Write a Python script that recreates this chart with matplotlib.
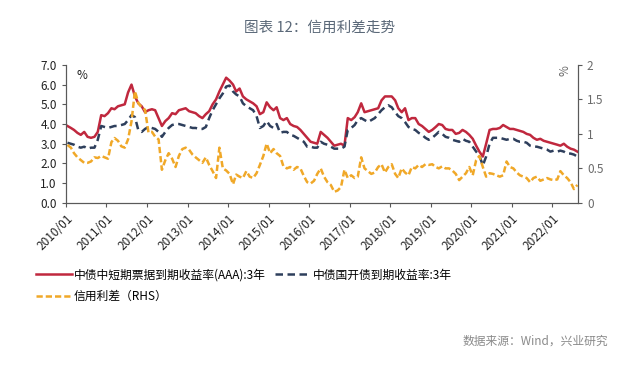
import matplotlib.pyplot as plt
import numpy as np
import pandas as pd

plt.rcParams['font.family'] = ['Noto Sans CJK SC', 'DejaVu Sans']

# Datos mensuales, 2010/01 - 2022/08
fechas = pd.date_range('2010-01-01', periods=152, freq='MS') + pd.Timedelta(days=14)

aaa_3y = [3.9, 3.8, 3.7, 3.55, 3.45, 3.6, 3.35, 3.3, 3.35, 3.6, 4.45, 4.4,
          4.55, 4.8, 4.75, 4.9, 4.95, 5.0, 5.6, 6.0, 5.4, 5.05, 4.9, 4.6,
          4.7, 4.75, 4.7, 4.3, 3.9, 4.15, 4.3, 4.55, 4.5, 4.7, 4.75, 4.8,
          4.65, 4.6, 4.55, 4.4, 4.3, 4.5, 4.65, 5.0, 5.25, 5.65, 6.0, 6.35,
          6.2, 6.0, 5.65, 5.8, 5.4, 5.25, 5.15, 5.05, 4.9, 4.5, 4.6, 5.1,
          4.85, 4.7, 4.85, 4.3, 4.2, 4.3, 4.0, 3.9, 3.85, 3.7, 3.5, 3.3,
          3.1, 3.05, 3.0, 3.6, 3.45, 3.3, 3.1, 2.9, 2.95, 3.0, 2.9, 4.3,
          4.2, 4.35, 4.6, 5.05, 4.6, 4.65, 4.7, 4.75, 4.8, 5.2, 5.4, 5.4,
          5.4, 5.2, 4.8, 4.6, 4.8, 4.2, 4.3, 4.3, 4.0, 3.9, 3.75, 3.6,
          3.7, 3.85, 4.0, 3.95, 3.75, 3.7, 3.7, 3.5, 3.55, 3.7, 3.6, 3.45,
          3.25, 2.9, 2.6, 2.35, 3.0, 3.7, 3.75, 3.75, 3.8, 3.95, 3.85, 3.75,
          3.75, 3.7, 3.65, 3.6, 3.5, 3.45, 3.3, 3.2, 3.25, 3.15, 3.1, 3.05,
          3.0, 2.95, 2.9, 3.0, 2.85, 2.75, 2.7, 2.6]

cdb_3y = [3.05, 3.0, 2.95, 2.85, 2.8, 2.85, 2.75, 2.8, 2.8, 3.2, 3.9, 3.85,
          3.8, 3.85, 3.9, 3.9, 3.95, 4.0, 4.2, 4.45, 4.35, 3.7, 3.6, 3.75,
          3.85, 3.8, 3.75, 3.6, 3.35, 3.6, 3.8, 3.95, 4.0, 4.0, 3.95, 3.9,
          3.85, 3.8, 3.8, 3.75, 3.75, 3.85, 4.3, 4.7, 5.0, 5.3, 5.55, 5.9,
          5.95, 5.65, 5.5, 5.4, 5.05, 4.9, 4.8, 4.7, 4.4, 3.8, 3.9, 4.15,
          3.9, 3.8, 4.0, 3.55, 3.6, 3.6, 3.45, 3.4, 3.3, 3.2, 3.1, 2.85,
          2.85, 2.8, 2.8, 3.1, 3.0, 2.95, 2.85, 2.75, 2.75, 2.75, 2.85, 3.7,
          3.8, 3.95, 4.2, 4.3, 4.2, 4.1, 4.2, 4.3, 4.5, 4.7, 4.85, 4.95,
          4.85, 4.6, 4.4, 4.3, 4.1, 3.85, 3.75, 3.7, 3.55, 3.45, 3.3, 3.2,
          3.3, 3.45, 3.6, 3.5, 3.35, 3.3, 3.2, 3.15, 3.1, 3.25, 3.15, 3.1,
          2.85, 2.6, 2.4, 1.9, 2.35, 3.0, 3.3, 3.3, 3.3, 3.25, 3.2, 3.25,
          3.25, 3.15, 3.1, 3.1, 3.05, 2.9, 2.85, 2.85, 2.8, 2.75, 2.7, 2.6,
          2.65, 2.6, 2.65, 2.6, 2.5, 2.5, 2.45, 2.35]

diferencial = [0.84, 0.8, 0.72, 0.66, 0.62, 0.58, 0.58, 0.6, 0.66, 0.65, 0.68, 0.66,
               0.64, 0.88, 0.94, 0.9, 0.82, 0.8, 0.92, 1.18, 1.62, 1.45, 1.38, 1.35,
               1.02, 1.03, 0.96, 0.92, 0.48, 0.62, 0.72, 0.64, 0.52, 0.68, 0.78, 0.8,
               0.77, 0.7, 0.66, 0.62, 0.58, 0.66, 0.55, 0.46, 0.36, 0.8, 0.5, 0.47,
               0.42, 0.27, 0.41, 0.38, 0.36, 0.46, 0.38, 0.36, 0.43, 0.55, 0.68, 0.86,
               0.72, 0.78, 0.72, 0.68, 0.53, 0.5, 0.52, 0.48, 0.52, 0.5, 0.39, 0.3,
               0.28, 0.32, 0.42, 0.5, 0.38, 0.3, 0.26, 0.16, 0.18, 0.23, 0.48, 0.36,
               0.4, 0.36, 0.38, 0.66, 0.5, 0.46, 0.42, 0.44, 0.52, 0.56, 0.44, 0.52,
               0.56, 0.42, 0.36, 0.5, 0.44, 0.4, 0.52, 0.5, 0.55, 0.52, 0.56, 0.55,
               0.56, 0.52, 0.5, 0.53, 0.5, 0.5, 0.47, 0.42, 0.33, 0.38, 0.43, 0.52,
               0.4, 0.62, 0.68, 0.52, 0.38, 0.43, 0.42, 0.4, 0.38, 0.4, 0.6, 0.52,
               0.5, 0.44, 0.4, 0.38, 0.36, 0.3, 0.36, 0.38, 0.32, 0.34, 0.36, 0.34,
               0.33, 0.34, 0.46, 0.4, 0.36, 0.3, 0.2, 0.26]

etiquetas_x = ['2010/01', '2011/01', '2012/01', '2013/01', '2014/01', '2015/01', '2016/01',
               '2017/01', '2018/01', '2019/01', '2020/01', '2021/01', '2022/01']

rojo = '#c0283e'
azul = '#2e3f5c'
naranja = '#f0a828'
gris = '#595959'

fig = plt.figure(figsize=(6.4, 3.75), dpi=100)
ax = fig.add_axes([0.103, 0.459, 0.800, 0.368])
ax2 = ax.twinx()

l1, = ax.plot(fechas, aaa_3y, color=rojo, lw=1.8, label='中债中短期票据到期收益率(AAA):3年')
l2, = ax.plot(fechas, cdb_3y, color=azul, lw=1.8, ls=(0, (3, 1.8)), label='中债国开债到期收益率:3年')
l3, = ax2.plot(fechas, diferencial, color=naranja, lw=1.8, ls=(0, (2.5, 1.2)), label='信用利差（RHS）')

ax.set_ylim(0, 7)
ax.set_yticks(np.arange(0, 7.1, 1))
ax.set_yticklabels(['%.1f' % v for v in np.arange(0, 7.1, 1)], fontsize=8.5)
ax2.set_ylim(0, 2)
ax2.set_yticks([0, 0.5, 1, 1.5, 2])
ax2.set_yticklabels(['0', '0.5', '1', '1.5', '2'], fontsize=8.5)

ticks_x = pd.to_datetime([e.replace('/', '-') + '-01' for e in etiquetas_x])
ax.set_xlim(pd.Timestamp('2010-01-01'), pd.Timestamp('2022-08-20'))
ax.set_xticks(ticks_x)
ax.set_xticklabels(etiquetas_x, rotation=45, ha='right', rotation_mode='anchor', fontsize=8.5)

for a in (ax, ax2):
    a.spines['top'].set_visible(False)
    a.spines['left'].set_color(gris)
    a.spines['right'].set_color(gris)
    a.spines['bottom'].set_color(gris)
    a.tick_params(color=gris, length=3, width=0.8)
ax.tick_params(axis='both', labelcolor='#222222')
ax2.tick_params(axis='y', labelcolor='#6b6b6b')

ax.text(0.02, 0.97, '%', transform=ax.transAxes, fontsize=8.5, va='top', color='#222222')
ax2.text(0.975, 0.995, '%', transform=ax.transAxes, fontsize=8.5, va='top', ha='center',
         rotation=90, color='#6b6b6b')

fig.text(0.5, 0.925, '图表 12：信用利差走势', ha='center', va='center', fontsize=10.5, color='#5a6878')

fig.legend([l1, l3, l2], [l1.get_label(), l3.get_label(), l2.get_label()],
           ncol=2, loc='upper left', bbox_to_anchor=(0.04, 0.312), frameon=False,
           fontsize=8.5, handlelength=3.0, handletextpad=0.2, columnspacing=0.8,
           labelspacing=0.7)

fig.text(0.95, 0.09, '数据来源：Wind，兴业研究', ha='right', va='center', fontsize=8.5, color='#8a8a8a')

plt.savefig('out.png', dpi=100)
